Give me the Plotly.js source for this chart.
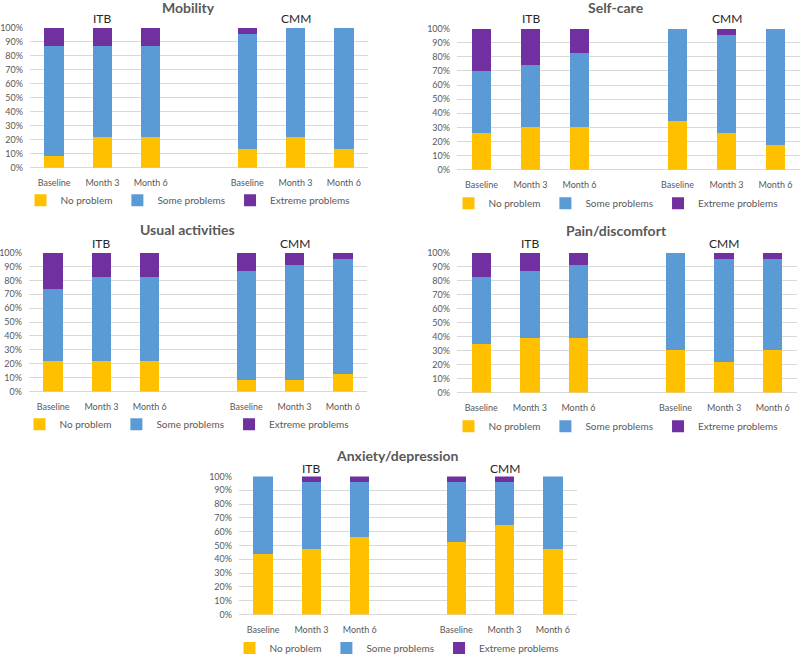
<!DOCTYPE html>
<html>
<head>
<meta charset="utf-8">
<script src="https://cdn.plot.ly/plotly-3.0.1.min.js"></script>
<style>
  html, body { margin: 0; padding: 0; background: #fff; }
  #chart { width: 800px; height: 663px; }
</style>
</head>
<body>
<div id="chart"></div>
<script>
const timepoints = ['Baseline', 'Month 3', 'Month 6'];
const groups = ['ITB', 'CMM'];
const levels = ['No problem', 'Some problems', 'Extreme problems'];
const levelColors = ['#FFC000', '#5B9BD5', '#7030A0'];
const dimensions = ['Mobility', 'Self-care', 'Usual activities', 'Pain/discomfort', 'Anxiety/depression'];

// percentages: ITB Baseline, Month 3, Month 6, CMM Baseline, Month 3, Month 6
const mobilityNone = [8.7, 21.7, 21.7, 13.0, 21.7, 13.0];
const mobilitySome = [78.3, 65.3, 65.3, 82.7, 78.3, 87.0];
const mobilityExtreme = [13.0, 13.0, 13.0, 4.3, 0, 0];

const selfCareNone = [26.1, 30.4, 30.4, 34.8, 26.1, 17.4];
const selfCareSome = [43.5, 43.5, 52.2, 65.2, 69.6, 82.6];
const selfCareExtreme = [30.4, 26.1, 17.4, 0, 4.3, 0];

const usualNone = [21.7, 21.7, 21.7, 8.7, 8.7, 13.0];
const usualSome = [52.2, 60.9, 60.9, 78.3, 82.6, 82.7];
const usualExtreme = [26.1, 17.4, 17.4, 13.0, 8.7, 4.3];

const painNone = [34.8, 39.1, 39.1, 30.4, 21.7, 30.4];
const painSome = [47.8, 47.9, 52.2, 69.6, 74.0, 65.3];
const painExtreme = [17.4, 13.0, 8.7, 0, 4.3, 4.3];

const anxietyNone = [43.5, 47.8, 56.5, 52.2, 65.2, 47.8];
const anxietySome = [56.5, 47.9, 39.2, 43.5, 30.5, 52.2];
const anxietyExtreme = [0, 4.3, 4.3, 4.3, 4.3, 0];

const panelData = [
  [mobilityNone, mobilitySome, mobilityExtreme],
  [selfCareNone, selfCareSome, selfCareExtreme],
  [usualNone, usualSome, usualExtreme],
  [painNone, painSome, painExtreme],
  [anxietyNone, anxietySome, anxietyExtreme],
];

const W = 800, H = 663;
const px = (x) => x / W;
const py = (y) => 1 - y / H;

// plot boxes in pixels: left, right, top (100%), bottom (0%), centre of title/legend
const boxes = [
  { l: 30, r: 368, t: 28, b: 170, mid: 188, title: 8, grp: 19, leg: 203 },
  { l: 457, r: 800, t: 29, b: 172, mid: 616, title: 8, grp: 19, leg: 206 },
  { l: 29, r: 367, t: 256, b: 397, mid: 187, title: 233, grp: 247, leg: 430 },
  { l: 457, r: 797, t: 256, b: 398, mid: 616, title: 234, grp: 247, leg: 432 },
  { l: 239, r: 577, t: 483, b: 623, mid: 397, title: 462, grp: 475, leg: 657 },
];

// slot positions: 3 timepoints per group, one empty slot between groups
const xPos = [];
const xText = [];
groups.forEach((g, gi) => {
  timepoints.forEach((t, ti) => {
    xPos.push(gi * 4 + ti);
    xText.push(t);
  });
});

const font = 'Lato, "Open Sans", sans-serif';
const traces = [];
const layout = {
  width: W,
  height: H,
  margin: { l: 0, r: 0, t: 0, b: 0 },
  paper_bgcolor: '#fff',
  plot_bgcolor: '#fff',
  barmode: 'stack',
  bargap: 0.6,
  font: { family: font, color: '#595959' },
  annotations: [],
};

dimensions.forEach((dim, i) => {
  const n = i === 0 ? '' : String(i + 1);
  const box = boxes[i];
  const legendName = 'legend' + n;

  levels.forEach((lvl, li) => {
    traces.push({
      type: 'bar',
      x: xPos,
      y: panelData[i][li],
      name: lvl,
      marker: { color: levelColors[li] },
      xaxis: 'x' + n,
      yaxis: 'y' + n,
      legend: legendName,
    });
  });

  layout['xaxis' + n] = {
    domain: [px(box.l), px(box.r)],
    anchor: 'y' + n,
    range: [-0.5, 6.5],
    tickvals: xPos,
    ticktext: xText,
    showgrid: false,
    zeroline: false,
    showline: false,
    ticks: '',
    ticklabelstandoff: 8,
    tickfont: { size: 9, color: '#595959', family: font },
    fixedrange: true,
  };
  layout['yaxis' + n] = {
    domain: [py(box.b), py(box.t)],
    anchor: 'x' + n,
    range: [0, 100],
    dtick: 10,
    ticksuffix: '%',
    showgrid: true,
    gridcolor: '#D9D9D9',
    zeroline: true,
    zerolinecolor: '#D9D9D9',
    showline: false,
    ticks: '',
    ticklabelstandoff: 6,
    tickfont: { size: 9, color: '#595959', family: font },
    fixedrange: true,
  };
  layout[legendName] = {
    orientation: 'h',
    x: px(box.mid),
    y: py(box.leg),
    xanchor: 'center',
    yanchor: 'middle',
    itemwidth: 30,
    traceorder: 'normal',
    bgcolor: 'rgba(0,0,0,0)',
    font: { size: 10, color: '#595959', family: font },
  };

  layout.annotations.push({
    xref: 'paper',
    yref: 'paper',
    x: px(box.mid),
    y: py(box.title),
    xanchor: 'center',
    yanchor: 'middle',
    showarrow: false,
    text: '<b>' + dim + '</b>',
    font: { size: 14, color: '#595959', family: font },
  });
  groups.forEach((g, gi) => {
    layout.annotations.push({
      xref: 'x' + n,
      yref: 'paper',
      x: gi * 4 + 1,
      y: py(box.grp),
      xanchor: 'center',
      yanchor: 'middle',
      showarrow: false,
      text: g,
      font: { size: 12, color: '#262626', family: font },
    });
  });
});

Plotly.newPlot('chart', traces, layout, { displayModeBar: false, staticPlot: true });
</script>
</body>
</html>
